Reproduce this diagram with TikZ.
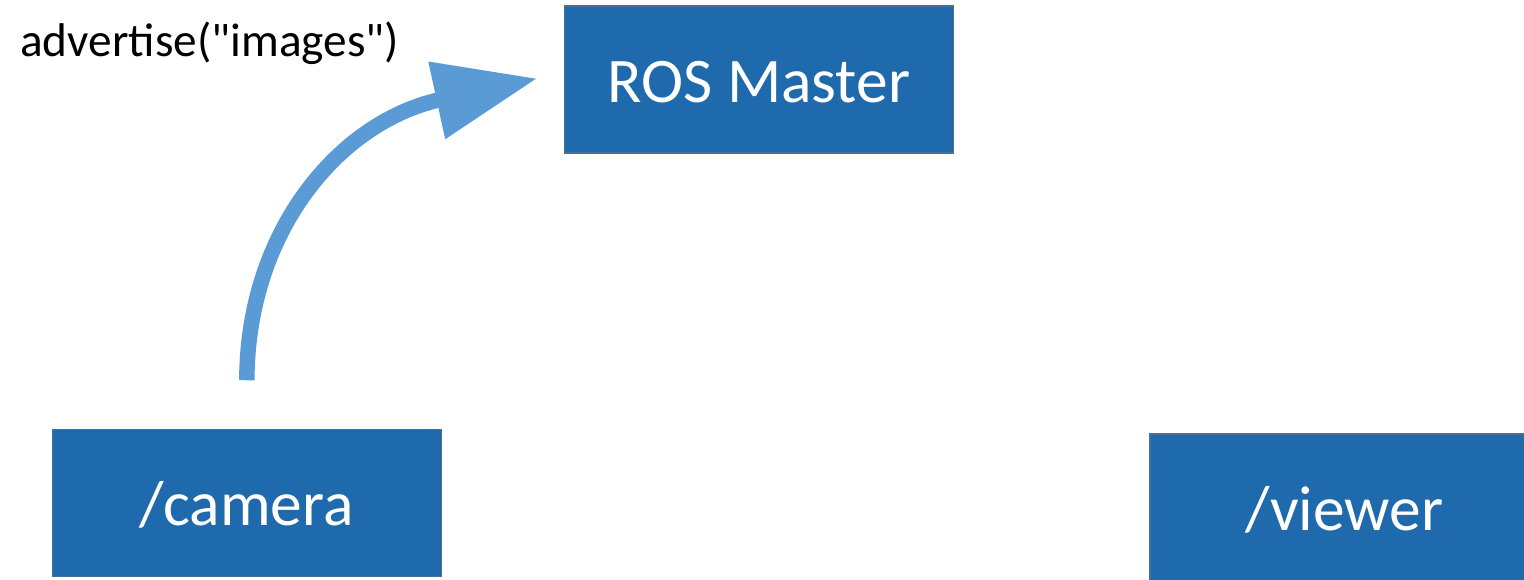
\documentclass[tikz,border=0pt]{standalone}
\usepackage{fontspec}
\setmainfont{Carlito}
\newfontfamily\plainlabelfont{Carlito}
\usetikzlibrary{arrows.meta}
\definecolor{boxfill}{HTML}{1F6AAD}
\definecolor{boxline}{HTML}{41719C}
\definecolor{arrowblue}{HTML}{5B9BD5}
\tikzset{
  rosbox/.style={rectangle, fill=boxfill, draw=boxline, line width=1.5pt,
    minimum width=389pt, minimum height=147pt, inner sep=0pt,
    text height=45pt, text depth=0pt,
    text=white, font=\fontsize{63.5}{76}\selectfont},
  callarrow/.style={draw=arrowblue, line width=15.5pt,
    -{Triangle[length=103pt,width=75pt]}},
  calllabel/.style={inner sep=0pt, anchor=base west, text=black,
    font=\plainlabelfont\fontsize{47.3}{56}\selectfont}
}
\begin{document}
\begin{tikzpicture}[x=1pt,y=-1pt]
\useasboundingbox (0,0) rectangle (1524,579);
\node[rosbox] (master) at (759,79.5) {ROS Master};
\node[rosbox] (camera) at (246.8,503) {/camera};
\node[rosbox] (viewer) at (1344.5,507.5) {/viewer};
\node[calllabel] (adv) at (20,56) {advertise("images")};
\draw[callarrow, shorten <=48.5pt, shorten >=27pt]
  (camera.north) .. controls (247,231) and (339.8,121.5) .. (master.178);
\end{tikzpicture}
\end{document}
